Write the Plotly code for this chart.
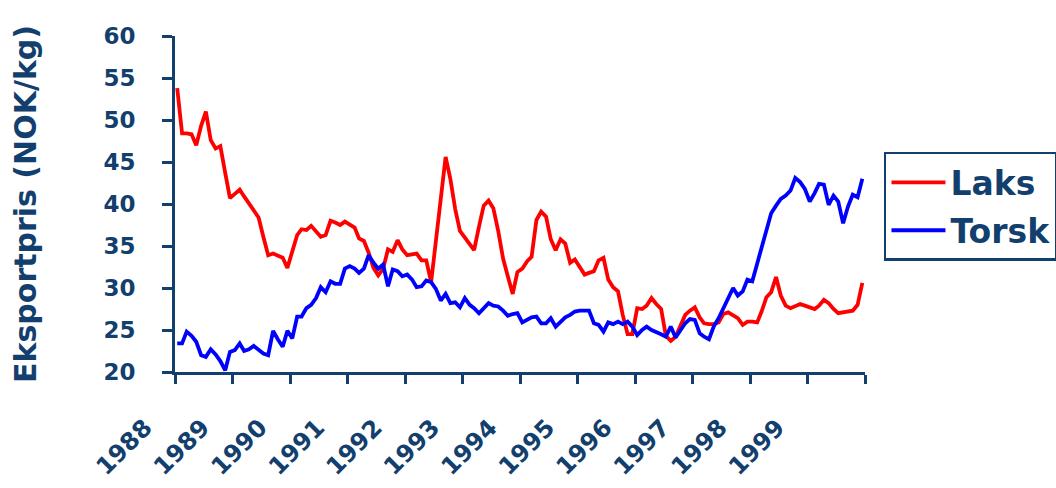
import plotly.graph_objects as go

# Monthly export prices, Jan 1988 - Dec 1999 (NOK/kg)
years = list(range(1988, 2000))
months = [f"{y}-{m:02d}-15" for y in years for m in range(1, 13)]

laks = [
    # 1988
    53.8, 48.4, 48.4, 48.3, 47.0, 49.3, 51.0, 47.6, 46.6, 46.9, 43.7, 40.7,
    # 1989
    41.2, 41.7, 40.9, 40.0, 39.3, 38.4, 36.1, 33.9, 34.1, 33.9, 33.6, 32.4,
    # 1990
    34.3, 36.3, 37.0, 36.9, 37.4, 36.8, 36.1, 36.3, 38.0, 37.8, 37.5, 37.9,
    # 1991
    37.6, 37.2, 35.9, 35.6, 34.2, 32.4, 31.5, 32.3, 34.6, 34.3, 35.7, 34.6,
    # 1992
    33.9, 34.0, 34.1, 33.3, 33.3, 30.7, 35.4, 41.0, 45.6, 43.0, 39.4, 36.8,
    # 1993
    36.0, 35.3, 34.5, 37.3, 39.8, 40.4, 39.5, 36.8, 33.5, 31.4, 29.3, 31.9,
    # 1994
    32.3, 33.2, 33.7, 38.1, 39.1, 38.5, 35.8, 34.5, 35.8, 35.3, 33.0, 33.4,
    # 1995
    32.5, 31.6, 31.8, 32.0, 33.3, 33.6, 31.0, 30.1, 29.6, 26.8, 24.5, 24.5,
    # 1996
    27.6, 27.5, 27.9, 28.8, 28.1, 27.5, 24.3, 23.7, 24.2, 25.5, 26.8, 27.3,
    # 1997
    27.7, 26.5, 25.8, 25.7, 25.7, 25.9, 26.9, 27.1, 26.8, 26.4, 25.6, 26.0,
    # 1998
    26.0, 25.9, 27.2, 28.9, 29.5, 31.3, 29.1, 27.9, 27.6, 27.9, 28.1, 27.9,
    # 1999
    27.7, 27.5, 27.9, 28.6, 28.2, 27.5, 27.0, 27.1, 27.2, 27.3, 28.0, 30.6,
]

torsk = [
    # 1988
    23.4, 23.4, 24.8, 24.3, 23.6, 22.0, 21.8, 22.7, 22.1, 21.3, 20.2, 22.4,
    # 1989
    22.6, 23.4, 22.5, 22.7, 23.1, 22.7, 22.2, 22.0, 24.9, 23.9, 23.0, 24.9,
    # 1990
    24.0, 26.6, 26.6, 27.6, 28.0, 28.8, 30.1, 29.5, 30.8, 30.5, 30.5, 32.3,
    # 1991
    32.6, 32.3, 31.8, 32.3, 33.9, 33.0, 32.3, 32.8, 30.2, 32.2, 32.0, 31.4,
    # 1992
    31.6, 31.0, 30.1, 30.2, 30.9, 30.7, 29.9, 28.5, 29.3, 28.2, 28.3, 27.7,
    # 1993
    28.8, 28.0, 27.6, 27.0, 27.6, 28.2, 27.9, 27.8, 27.3, 26.7, 26.9, 27.0,
    # 1994
    25.9, 26.2, 26.5, 26.6, 25.8, 25.8, 26.4, 25.4, 26.0, 26.5, 26.8, 27.2,
    # 1995
    27.3, 27.3, 27.3, 25.8, 25.6, 24.8, 25.9, 25.7, 26.0, 25.7, 26.0, 25.4,
    # 1996
    24.4, 25.0, 25.4, 25.0, 24.8, 24.5, 24.2, 25.4, 24.1, 25.0, 25.8, 26.3,
    # 1997
    26.2, 24.6, 24.2, 23.9, 25.4, 26.4, 27.6, 28.8, 30.0, 29.1, 29.6, 31.0,
    # 1998
    30.8, 32.9, 34.9, 36.9, 38.9, 39.8, 40.6, 41.0, 41.6, 43.1, 42.6, 41.8,
    # 1999
    40.3, 41.3, 42.4, 42.3, 39.9, 41.0, 40.3, 37.7, 39.7, 41.1, 40.8, 43.0,
]

year_ticks = [f"{y}-01-01" for y in years + [2000]]
year_labels = [str(y) for y in years] + [""]

navy = "#123F6D"
font_family = "DejaVu Sans"

fig = go.Figure()
fig.add_trace(go.Scatter(
    x=months, y=laks, name="Laks", mode="lines",
    line=dict(color="#FF0000", width=3.8), legendgroup="laks",
))
fig.add_trace(go.Scatter(
    x=months, y=torsk, name="Torsk", mode="lines",
    line=dict(color="#0000FF", width=3.8), legendgroup="torsk",
))

fig.update_layout(
    width=1056, height=488,
    margin=dict(l=175, r=191, t=36, b=116, autoexpand=False),
    paper_bgcolor="white", plot_bgcolor="white",
    font=dict(family=font_family, color=navy),
    showlegend=True,
    legend=dict(
        x=1.0275, y=0.655, xanchor="left", yanchor="top",
        bordercolor=navy, borderwidth=2.5, bgcolor="white",
        font=dict(size=33, family=font_family, color=navy, weight="bold"),
        tracegroupgap=2, traceorder="grouped",
        itemwidth=54,
    ),
    xaxis=dict(
        type="date", range=["1988-01-01", "2000-01-01"],
        tickmode="array", tickvals=year_ticks, ticktext=year_labels,
        tickangle=-45, ticks="outside", ticklen=9, tickwidth=2.5, tickcolor=navy,
        showline=True, linecolor=navy, linewidth=3, showgrid=False, zeroline=False,
        tickfont=dict(size=24, family=font_family, color=navy, weight="bold"),
        ticklabelstandoff=20, ticklabelshift=-30,
    ),
    yaxis=dict(
        range=[20, 60], dtick=5, tick0=20,
        ticks="outside", ticklen=10, tickwidth=2.5, tickcolor=navy,
        showline=True, linecolor=navy, linewidth=3, showgrid=False, zeroline=False,
        tickfont=dict(size=23, family=font_family, color=navy, weight="bold"),
        ticklabelstandoff=22,
        title=dict(text="Eksportpris (NOK/kg)", standoff=58,
                   font=dict(size=30, family=font_family, color=navy, weight="bold")),
    ),
)

fig.write_html("out.html")
